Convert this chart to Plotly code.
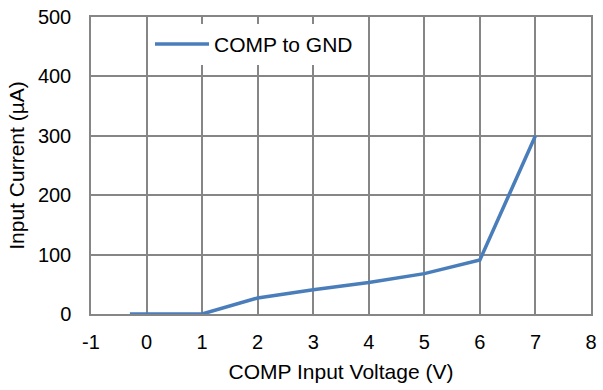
import plotly.graph_objects as go

voltage = [-0.3, 0, 1, 2, 3, 4, 5, 6, 7]
current = [0, 0, 0, 27, 41, 53, 68, 91, 300]
x_ticks = [-1, 0, 1, 2, 3, 4, 5, 6, 7, 8]
y_ticks = [0, 100, 200, 300, 400, 500]

FONT = "Liberation Sans, Arial, sans-serif"
GRID = "#868686"

fig = go.Figure()
fig.add_trace(go.Scatter(
    x=voltage, y=current, mode="lines", name="COMP to GND",
    line=dict(color="#4a7ebb", width=3.5),
))

fig.update_layout(
    width=603, height=390,
    margin=dict(l=91, r=6, t=14, b=76),
    paper_bgcolor="white", plot_bgcolor="white",
    font=dict(family=FONT, size=20, color="black"),
    showlegend=True,
    legend=dict(
        x=0.118, y=0.908, xanchor="left", yanchor="middle",
        bgcolor="white", borderwidth=0, itemwidth=54,
        font=dict(size=21, color="black"),
    ),
    xaxis=dict(
        range=[-1, 8], tickvals=x_ticks, ticktext=[str(v) for v in x_ticks],
        showgrid=True, gridcolor=GRID, gridwidth=1.5,
        showline=True, linecolor=GRID, linewidth=1.5, mirror=True,
        zeroline=False, ticks="", ticklabelstandoff=9,
        title=dict(text="COMP Input Voltage (V)", standoff=13, font=dict(size=21)),
    ),
    yaxis=dict(
        range=[0, 500], tickvals=y_ticks,
        showgrid=True, gridcolor=GRID, gridwidth=1.5,
        showline=True, linecolor=GRID, linewidth=1.5, mirror=True,
        zeroline=False, ticks="", ticklabelstandoff=14,
        title=dict(text="Input Current (µA)", standoff=8, font=dict(size=21)),
    ),
)

fig.write_html("out.html")
